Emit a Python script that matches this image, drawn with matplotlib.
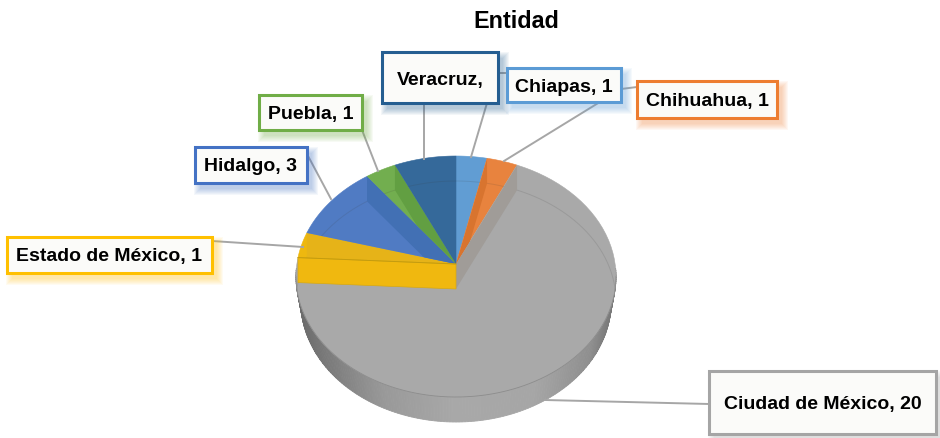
#!/usr/bin/env python3
"""Pseudo 3D pie chart 'Entidad' with boxed callouts, drawn in pixel coordinates."""

import numpy as np
import matplotlib
matplotlib.use("Agg")
import matplotlib.pyplot as plt
from matplotlib.patches import Polygon, Rectangle

plt.rcParams["font.family"] = ["Liberation Sans", "DejaVu Sans"]

# ---- data, clockwise from 12 o'clock ----
TITLE = "Entidad"
CATEGORIES = ["Chiapas", "Chihuahua", "Ciudad de México", "Estado de México",
              "Hidalgo", "Puebla", "Veracruz"]
VALUES = [1, 1, 20, 1, 3, 1, 2]
LABELS = ["Chiapas, 1", "Chihuahua, 1", "Ciudad de México, 20", "Estado de México, 1",
          "Hidalgo, 3", "Puebla, 1", "Veracruz,"]

# ---- styles and layout (pixels) ----
TOP_COLORS = ["#619dd3", "#e8833e", "#a9a9a9", "#eeb80f", "#507bc3", "#72ae4f", "#35699a"]
WALL_COLORS = ["#5b93c8", "#d8742f", "#a09c98", "#e6b318", "#4270b4", "#629f42", "#35699a"]
BORDER_COLORS = ["#5b9bd5", "#ed7d31", "#a5a5a5", "#ffc000", "#4472c4", "#70ad47", "#255e91"]
BOXES = [(507, 69, 621, 103), (637, 82, 777, 119), (709, 372, 936, 435), (7, 238, 212, 274),
         (195, 148, 307, 184), (259, 96, 362, 131), (382, 53, 498, 104)]
LEADERS = [[(471, 158), (487, 104), (497, 74), (507, 74)],
           [(504, 162), (621, 90), (637, 88)],
           [(545, 401), (709, 405)],
           [(303, 248), (212, 242)],
           [(331, 200), (307, 155)],
           [(378, 172), (362, 131)],
           [(424, 160), (424, 104)]]

APEX_X, APEX_Y = 456, 265
RIM_UP, RIM_DOWN, RIM_X = 108, 133, 160
DEPTH = 25
BOTTOM_SHRINK = 0.97

persp = (RIM_DOWN - RIM_UP) / (RIM_DOWN + RIM_UP)
scale_y = RIM_UP * (1 + persp)
scale_x = RIM_X * np.sqrt(1 - persp ** 2)


def project(angle_deg, dy=0.0, shrink=1.0):
    """Disc rim point at a clockwise angle from the top, seen in perspective."""
    a = np.radians(angle_deg)
    u, v = np.sin(a), np.cos(a)
    w = 1 + persp * v
    return APEX_X + shrink * scale_x * u / w, APEX_Y - scale_y * v / w + dy


def rim(a0, a1, dy=0.0, n=80, shrink=1.0):
    xs, ys = project(np.linspace(a0, a1, n), dy, shrink)
    return list(zip(xs, ys))


def wall(angle):
    return [(APEX_X, APEX_Y), project(angle), project(angle, DEPTH), (APEX_X, APEX_Y + DEPTH)]


fig = plt.figure(figsize=(9.4, 4.39), dpi=100)
ax = fig.add_axes([0, 0, 1, 1])
ax.set_xlim(0, 940)
ax.set_ylim(439, 0)
ax.axis("off")

edges = np.concatenate(([0], np.cumsum(VALUES))) / sum(VALUES) * 360

# outer side of the disc, shaded across its width
steps = np.linspace(92, 268, 177)
for a0, a1 in zip(steps[:-1], steps[1:]):
    xm = (project(a0)[0] - APEX_X) / RIM_X
    shade = np.interp(xm, [-1, -0.85, -0.45, 0, 0.5, 0.85, 1],
                      [0.42, 0.47, 0.60, 0.66, 0.65, 0.56, 0.46])
    col = (shade, shade, shade)
    ax.add_patch(Polygon(rim(a0, a1, 0, 3) + rim(a1, a0, DEPTH, 3, BOTTOM_SHRINK), closed=True,
                         fc=col, ec=col, lw=0.6, zorder=1))

# top faces
tops = []
for i in range(len(VALUES)):
    pts = [(APEX_X, APEX_Y)] + rim(edges[i], edges[i + 1])
    top = Polygon(pts, closed=True, fc=TOP_COLORS[i], ec=TOP_COLORS[i], lw=0.4, zorder=2)
    ax.add_patch(top)
    tops.append(top)

# far edge of the bottom disc, seen through the top
disc = Polygon(rim(0, 360, 0, 240), closed=True, fc="none", ec="none", zorder=0)
ax.add_patch(disc)
far_edge = np.array(rim(-98, 98, DEPTH, 160))
line, = ax.plot(far_edge[:, 0], far_edge[:, 1], color="#3c3c3c", lw=0.7, alpha=0.14, zorder=3)
line.set_clip_path(disc)

# near rim line between top face and side
front_rim = np.array(rim(96, 264, 0, 160))
ax.plot(front_rim[:, 0], front_rim[:, 1], color="#8c8c8c", lw=0.6, zorder=3)

# inner cut faces, clipped to their own slice
for i in range(len(VALUES)):
    mid = (edges[i] + edges[i + 1]) / 2
    cut = edges[i] if mid < 180 else edges[i + 1]
    face = Polygon(wall(cut), closed=True, fc=WALL_COLORS[i], ec="none", zorder=4)
    ax.add_patch(face)
    face.set_clip_path(tops[i])

# the Estado de México slice shows its cut face over the big slice
idx = 3
ax.add_patch(Polygon(wall(edges[idx]), closed=True, fc="#f0b80f", ec="#d9a90f", lw=0.5, zorder=5))
edge_pts = np.array([(APEX_X, APEX_Y), project(edges[idx])])
ax.plot(edge_pts[:, 0], edge_pts[:, 1], color="#c49c0f", lw=0.7, zorder=6)

# title
ax.text(516, 21, TITLE, ha="center", va="center", fontsize=16.8, fontweight="bold",
        color="black", zorder=10)

# callouts
for i, label in enumerate(LABELS):
    pts = np.array(LEADERS[i])
    ax.plot(pts[:, 0], pts[:, 1], color="#a6a6a6", lw=1.4, zorder=7)

for i, label in enumerate(LABELS):
    x0, y0, x1, y1 = BOXES[i]
    w, h = x1 - x0, y1 - y0
    for grow in range(6, -1, -1):
        ax.add_patch(Rectangle((x0 + 5 - grow, y0 + 6 - grow), w + 2 * grow, h + 2 * grow,
                               fc=BORDER_COLORS[i], ec="none", alpha=0.055, zorder=8))
    ax.add_patch(Rectangle((x0, y0), w, h, fc="#fbfbf9", ec=BORDER_COLORS[i], lw=2.2, zorder=9))
    tx = (x0 + x1) / 2
    ty = (y0 + y1) / 2 + 1
    if label == "Veracruz,":
        tx = 440
        ty = y0 + 28
    ax.text(tx, ty, label, ha="center", va="center", fontsize=14, fontweight="bold",
            color="black", zorder=10)

fig.savefig("out.png", dpi=100, facecolor="white")
